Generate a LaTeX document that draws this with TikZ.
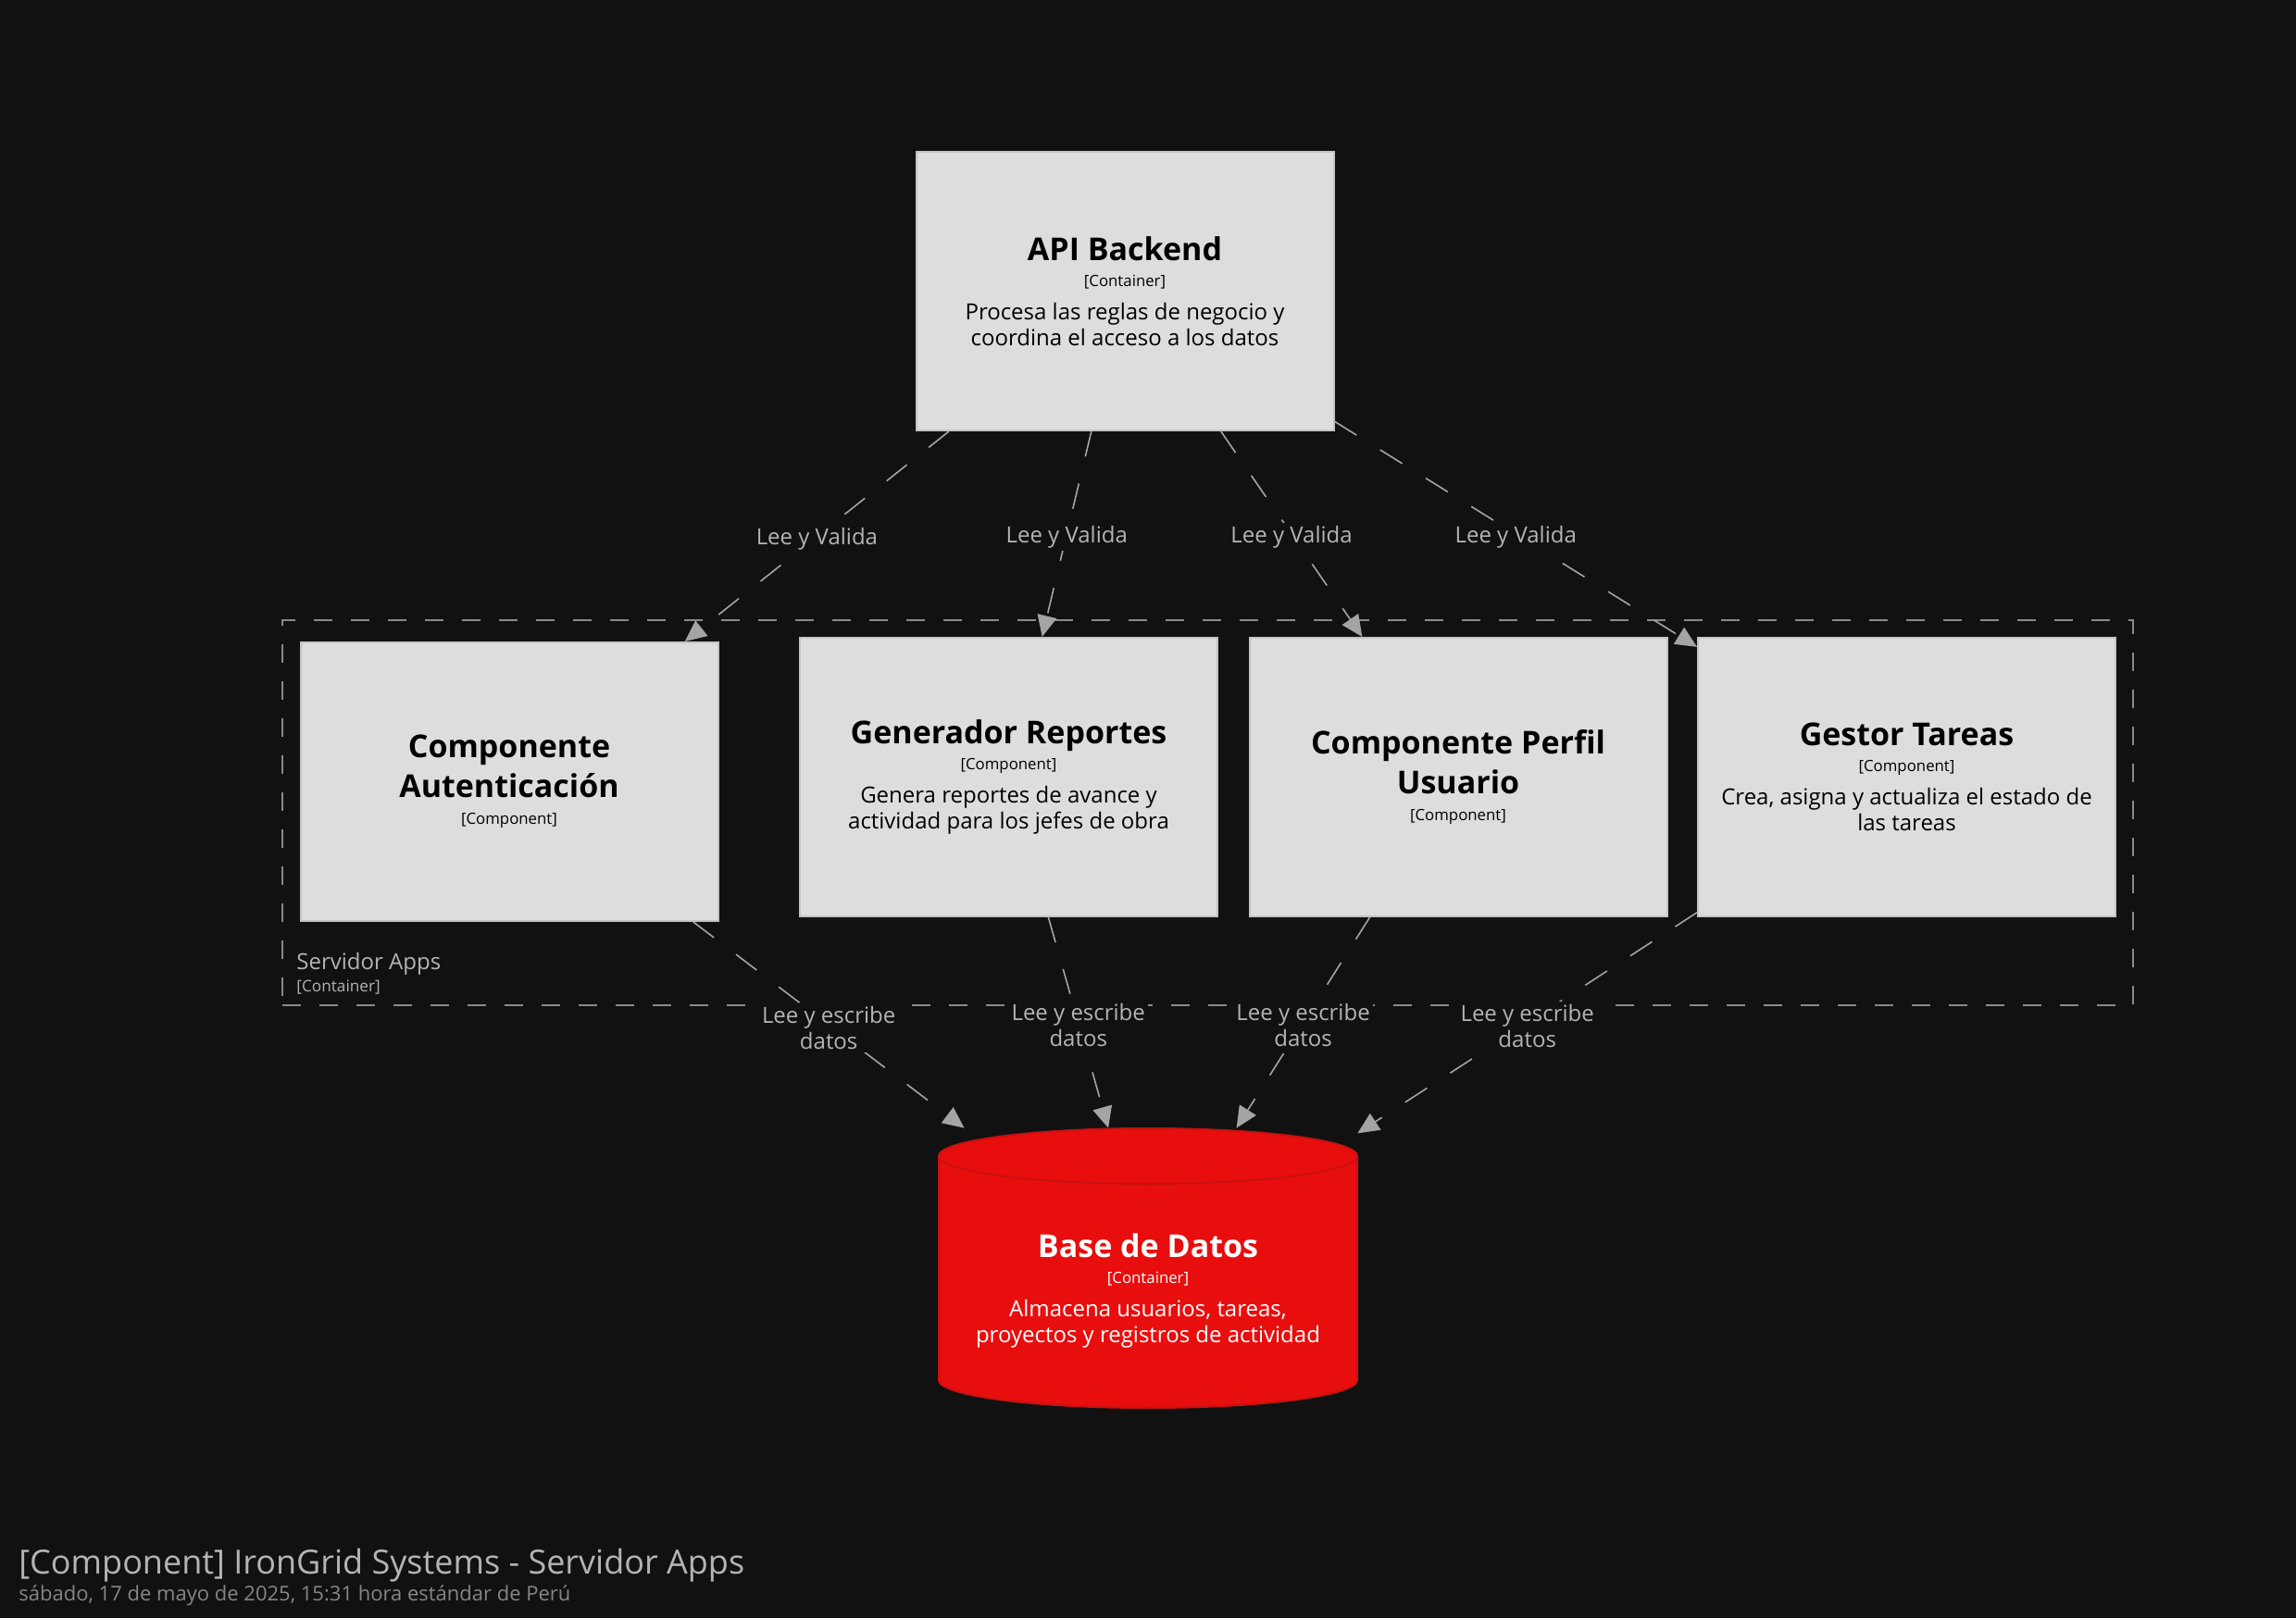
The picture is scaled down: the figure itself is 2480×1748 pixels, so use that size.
\documentclass[tikz,border=0pt]{standalone}
\usepackage{fontspec}
\setmainfont{Open Sans}
\usetikzlibrary{arrows.meta}
\definecolor{bgcol}{HTML}{111111}
\definecolor{boxcol}{HTML}{DDDDDD}
\definecolor{boxline}{HTML}{C4C4C4}
\definecolor{dbred}{HTML}{E80E0E}
\definecolor{dbline}{HTML}{C81111}
\definecolor{relcol}{HTML}{A4A4A4}
\definecolor{srvcol}{HTML}{8A8A8A}
\definecolor{txtgrey}{HTML}{B4B4B4}
\definecolor{dategrey}{HTML}{868686}
\newcommand{\nm}[1]{{\fontsize{17}{20.5}\selectfont\bfseries #1}}
\newcommand{\tg}[1]{{\fontsize{8.4}{10}\selectfont #1}}

\begin{document}
\begin{tikzpicture}[x=.5pt,y=-.5pt,
		comp/.style={rectangle,fill=boxcol,draw=boxline,line width=1pt,minimum width=225.5pt,minimum height=150.5pt,inner sep=0pt,align=center,font=\fontsize{12}{14}\selectfont},
		rel/.style={draw=relcol,line width=.8pt,dash pattern=on 14pt off 15pt,-{Triangle[length=11.5pt,width=10.5pt]}},
		lbl/.style={fill=bgcol,text=txtgrey,inner sep=1.5pt,yshift=-1.5pt,align=center,font=\fontsize{12}{14}\selectfont}]
	\fill[bgcol] (0,0) rectangle (2480,1748);

	% boundary Servidor Apps
	\node[draw=srvcol,line width=1pt,dash pattern=on 10pt off 10pt,minimum width=999.5pt,minimum height=208pt,inner sep=0pt] (srv) at (1304.5,878) {};
	\node[anchor=base west,text=txtgrey,font=\fontsize{12}{14}\selectfont,inner sep=0pt] (srvname) at (320,1047) {Servidor Apps};
	\node[anchor=base west,text=txtgrey,font=\fontsize{8.6}{10}\selectfont,inner sep=0pt] (srvtag) at (320,1071) {[Container]};

	\node[comp] (api) at (1215,314.5) {\nm{API Backend}\\\tg{[Container]}\\[4pt]Procesa las reglas de negocio y\\coordina el acceso a los datos};
	\node[comp] (auth) at (550,844.5) {\nm{Componente}\\[3.3pt]\nm{Autenticación}\\[.5pt]\tg{[Component]}};
	\node[comp] (gen) at (1089.5,839.5) {\nm{Generador Reportes}\\\tg{[Component]}\\[4pt]Genera reportes de avance y\\actividad para los jefes de obra};
	\node[comp] (perfil) at (1575,839.5) {\nm{Componente Perfil}\\[3.5pt]\nm{Usuario}\\[.5pt]\tg{[Component]}};
	\node[comp] (gestor) at (2059.5,839.5) {\nm{Gestor Tareas}\\\tg{[Component]}\\[4pt]Crea, asigna y actualiza el estado de\\las tareas};

	% database
	\node[minimum width=226pt,minimum height=151pt,inner sep=0pt] (db) at (1240,1370) {};
	\filldraw[fill=dbred,draw=dbline,line width=1pt] (1014,1249) -- (1014,1491) arc[start angle=180,end angle=0,x radius=226,y radius=30] -- (1466,1249) arc[start angle=0,end angle=-180,x radius=226,y radius=30] -- cycle;
	\draw[dbline,line width=1pt] (1014,1249) arc[start angle=180,end angle=0,x radius=226,y radius=30];
	\node[align=center,text=white,font=\fontsize{12}{14}\selectfont] (dbtxt) at (1240,1394) {\nm{Base de Datos}\\\tg{[Container]}\\[4pt]Almacena usuarios, tareas,\\proyectos y registros de actividad};

	\draw[rel] (api) -- node[lbl]{Lee y Valida} (auth);
	\draw[rel] (api) -- node[lbl]{Lee y Valida} (gen);
	\draw[rel] (api) -- node[lbl]{Lee y Valida} (perfil);
	\draw[rel] (api) -- node[lbl]{Lee y Valida} (gestor);

	\draw[rel] (auth) -- node[lbl]{Lee y escribe\\datos} (db);
	\draw[rel] (gen) -- node[lbl]{Lee y escribe\\datos} (db);
	\draw[rel] (perfil) -- node[lbl]{Lee y escribe\\datos} (db);
	\draw[rel] (gestor) -- node[lbl]{Lee y escribe\\datos} (db);

	\node[anchor=base west,text=txtgrey,font=\fontsize{18}{22}\selectfont,inner sep=0pt] (title) at (20,1700) {[Component] IronGrid Systems - Servidor Apps};
	\node[anchor=base west,text=dategrey,font=\fontsize{11}{13}\selectfont,inner sep=0pt] (date) at (20,1729) {sábado, 17 de mayo de 2025, 15:31 hora estándar de Perú};
\end{tikzpicture}
\end{document}
